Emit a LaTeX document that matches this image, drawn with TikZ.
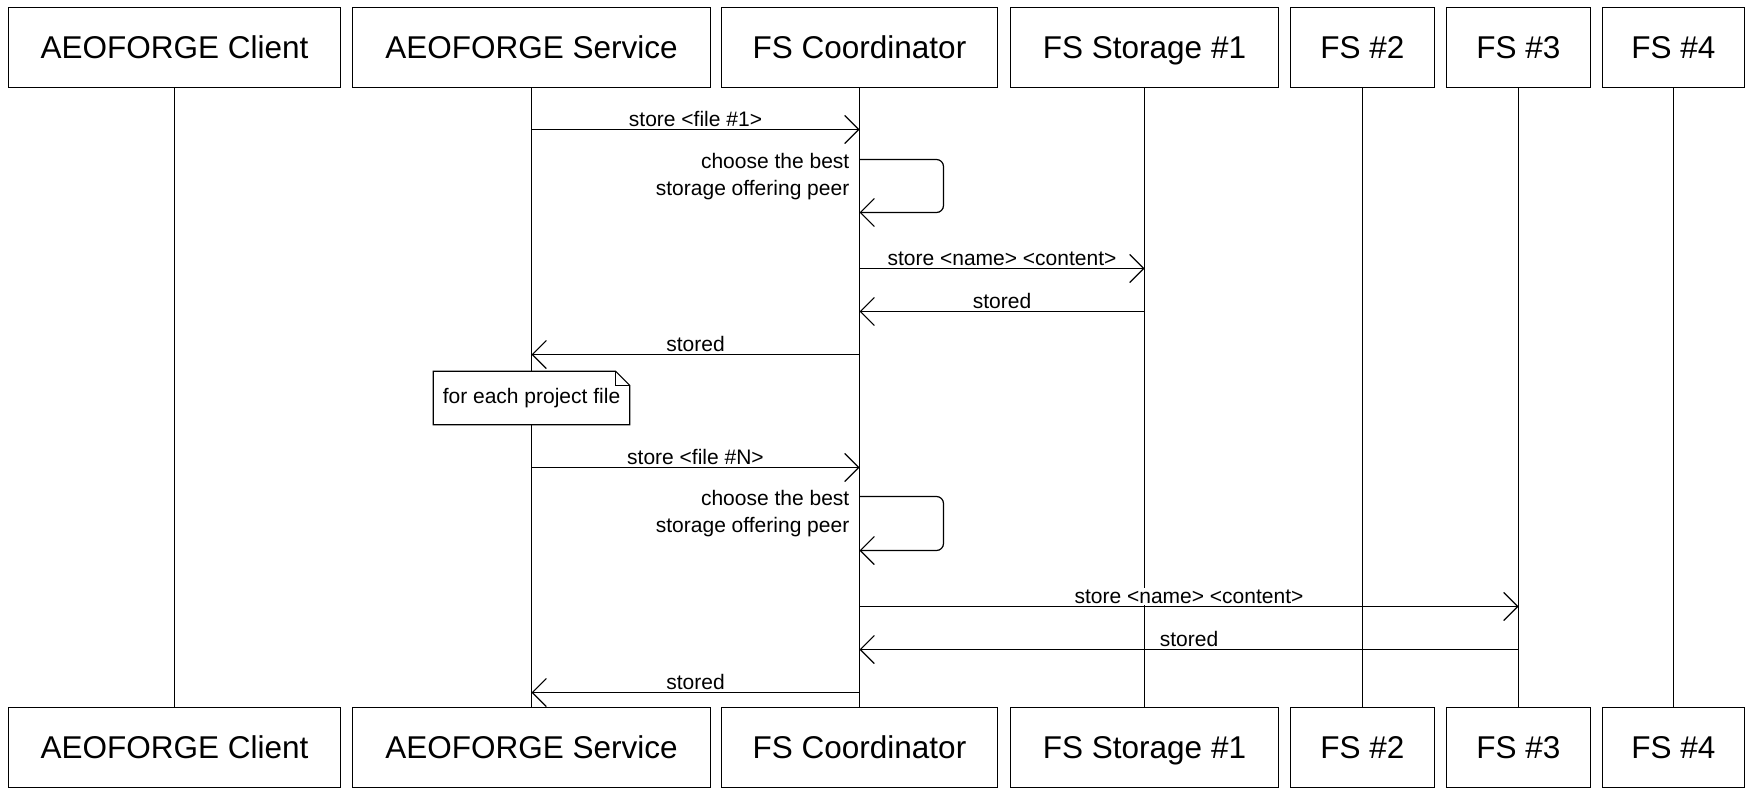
\documentclass[tikz,border=0pt]{standalone}
\usepackage{fontspec}
\setmainfont{Liberation Sans}
\usetikzlibrary{arrows.meta}
\begin{document}
\begin{tikzpicture}[x=1pt,y=-1pt,
  head/.style={draw, line width=1.4pt, minimum height=80pt, inner sep=0pt, text height=22.6pt, text depth=0pt, font=\fontsize{31.5}{36}\selectfont},
  life/.style={line width=1.2pt},
  msg/.style={line width=1.2pt, -{Straight Barb[length=14pt,width=28pt]}},
  lbl/.style={font=\fontsize{21}{25}\selectfont, fill=white, inner sep=1.5pt, anchor=base, yshift=3.5pt},
  selflbl/.style={font=\fontsize{21}{26.7}\selectfont, align=right, anchor=north east, inner sep=0pt, xshift=-10pt, yshift=6pt},
  notebox/.style={fill=white, minimum width=196pt, minimum height=53pt, inner sep=0pt, font=\fontsize{21}{25}\selectfont},
]
\useasboundingbox (0,0) rectangle (1746,788);

% participants (top)
\node[head, minimum width=332pt] (cli) at (174.5,47.5) {AEOFORGE Client};
\node[head, minimum width=358pt] (svc) at (531.5,47.5) {AEOFORGE Service};
\node[head, minimum width=276pt] (crd) at (859.5,47.5) {FS Coordinator};
\node[head, minimum width=268pt] (st1) at (1144.5,47.5) {FS Storage \#1};
\node[head, minimum width=144pt] (fs2) at (1362.5,47.5) {FS \#2};
\node[head, minimum width=144pt] (fs3) at (1518.5,47.5) {FS \#3};
\node[head, minimum width=142pt] (fs4) at (1673.5,47.5) {FS \#4};
% participants (bottom)
\node[head, minimum width=332pt] (cliB) at (174.5,747.5) {AEOFORGE Client};
\node[head, minimum width=358pt] (svcB) at (531.5,747.5) {AEOFORGE Service};
\node[head, minimum width=276pt] (crdB) at (859.5,747.5) {FS Coordinator};
\node[head, minimum width=268pt] (st1B) at (1144.5,747.5) {FS Storage \#1};
\node[head, minimum width=144pt] (fs2B) at (1362.5,747.5) {FS \#2};
\node[head, minimum width=144pt] (fs3B) at (1518.5,747.5) {FS \#3};
\node[head, minimum width=142pt] (fs4B) at (1673.5,747.5) {FS \#4};

% lifelines
\draw[life] (cli.south) -- (cliB.north);
\draw[life] (svc.south) -- (svcB.north);
\draw[life] (crd.south) -- (crdB.north);
\draw[life] (st1.south) -- (st1B.north);
\draw[life] (fs2.south) -- (fs2B.north);
\draw[life] (fs3.south) -- (fs3B.north);
\draw[life] (fs4.south) -- (fs4B.north);

% rows
\coordinate (r1) at (0,129.5);
\coordinate (s1t) at (0,159.5);
\coordinate (s1b) at (0,212.5);
\coordinate (r2) at (0,268.5);
\coordinate (r3) at (0,311.5);
\coordinate (r4) at (0,354.5);
\coordinate (r5) at (0,467.5);
\coordinate (s2t) at (0,496.5);
\coordinate (s2b) at (0,550.5);
\coordinate (r6) at (0,606.5);
\coordinate (r7) at (0,649.5);
\coordinate (r8) at (0,692.5);

% labels
\path (svc.south |- r1) -- node[lbl] (l1) {store <file \#1>} (crd.south |- r1);
\node[selflbl] (l2) at (crd.south |- s1t) {choose the best\\storage offering peer};
\path (crd.south |- r2) -- node[lbl] (l3) {store <name> <content>} (st1.south |- r2);
\path (st1.south |- r3) -- node[lbl] (l4) {stored} (crd.south |- r3);
\path (crd.south |- r4) -- node[lbl] (l5) {stored} (svc.south |- r4);
\path (svc.south |- r5) -- node[lbl] (l6) {store <file \#N>} (crd.south |- r5);
\node[selflbl] (l7) at (crd.south |- s2t) {choose the best\\storage offering peer};
\path (crd.south |- r6) -- node[lbl] (l8) {store <name> <content>} (fs3.south |- r6);
\path (fs3.south |- r7) -- node[lbl] (l9) {stored} (crd.south |- r7);
\path (crd.south |- r8) -- node[lbl] (l10) {stored} (svc.south |- r8);

% messages
\draw[msg] (svc.south |- r1) -- (crd.south |- r1);
\draw[msg, rounded corners=7pt] (crd.south |- s1t) -- ([xshift=84pt]crd.south |- s1t) -- ([xshift=84pt]crd.south |- s1b) -- (crd.south |- s1b);
\draw[msg] (crd.south |- r2) -- (st1.south |- r2);
\draw[msg] (st1.south |- r3) -- (crd.south |- r3);
\draw[msg] (crd.south |- r4) -- (svc.south |- r4);
\draw[msg] (svc.south |- r5) -- (crd.south |- r5);
\draw[msg, rounded corners=7pt] (crd.south |- s2t) -- ([xshift=84pt]crd.south |- s2t) -- ([xshift=84pt]crd.south |- s2b) -- (crd.south |- s2b);
\draw[msg] (crd.south |- r6) -- (fs3.south |- r6);
\draw[msg] (fs3.south |- r7) -- (crd.south |- r7);
\draw[msg] (crd.south |- r8) -- (svc.south |- r8);

% note
\node[notebox] (note) at (531.5,398) {for each project file};
\draw[line width=1.2pt] (note.north west) -- ([xshift=-14pt]note.north east) -- ([yshift=-14pt]note.north east) -- (note.south east) -- (note.south west) -- cycle;
\draw[line width=1.2pt] ([xshift=-14pt]note.north east) |- ([yshift=-14pt]note.north east);
\end{tikzpicture}
\end{document}
